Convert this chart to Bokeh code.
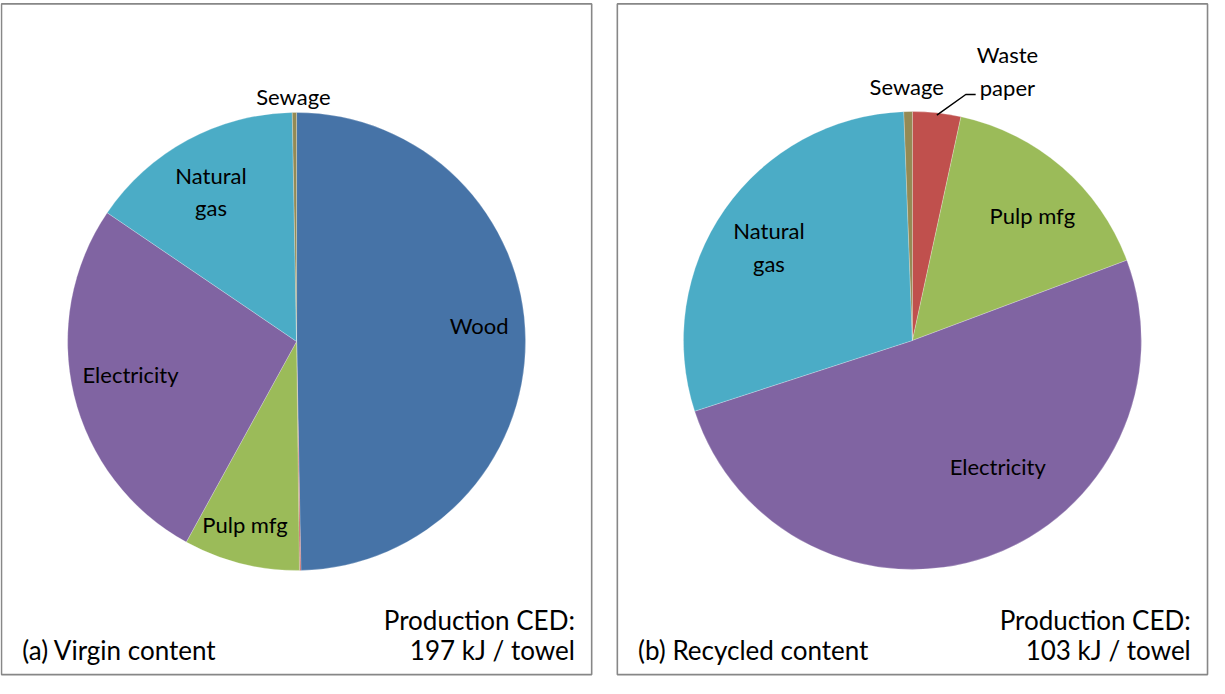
import numpy as np
from bokeh.plotting import figure
from bokeh.models import Range1d
from bokeh.core.properties import value
from bokeh.embed import file_html
from bokeh.resources import INLINE

# ---------------- data ----------------
categories = ["Wood", "Waste paper", "Pulp mfg", "Electricity", "Natural gas", "Sewage"]
virgin_pct = [49.7, 0.1, 8.2, 26.5, 15.2, 0.3]
recycled_pct = [0.0, 3.4, 15.9, 50.7, 29.4, 0.6]
label_text = ["Wood", "Waste\npaper", "Pulp mfg", "Electricity", "Natural\ngas", "Sewage"]
panel_titles = ["(a) Virgin content", "(b) Recycled content"]
ced_kj = [197, 103]

# ---------------- styles ----------------
colors = ["#4673A7", "#C0504D", "#9BBB59", "#8064A2", "#4BACC6", "#948A54"]
FONT = "Lato"

# page-pixel-like coordinates (y negated so that up is positive)
p = figure(width=1209, height=678, output_backend="svg", toolbar_location=None,
           x_range=Range1d(0, 1225), y_range=Range1d(-694, 0),
           min_border=0)
p.axis.visible = False
p.grid.visible = False
p.outline_line_color = None
p.background_fill_color = "white"

panels = [
    dict(values=virgin_pct, box=(1, 599, 3.5, 690), cx=300, cy=349, R=232,
         # label placement: (angle nudge in degrees, radius factor) or None
         labels=[(-4.4, 0.80), None, (1.5, 0.84), (2.0, 0.74), (-1.0, 0.76), (-0.2, 1.08)],
         leader=None),
    dict(values=recycled_pct, box=(625, 1223, 3.5, 690), cx=924, cy=348, R=232,
         labels=[None, (13.1, 1.26), (2.7, 0.76), (-14.5, 0.67), (-1.6, 0.75), (-0.2, 1.12)],
         leader=1),
]

for k, pan in enumerate(panels):
    vals = np.array(pan["values"], dtype=float)
    frac = vals / vals.sum()
    cum = np.concatenate([[0.0], np.cumsum(frac)])
    cx, cy, R = pan["cx"], -pan["cy"], pan["R"]
    x0, x1, t, b = pan["box"]
    p.quad(left=[x0], right=[x1], top=[-t], bottom=[-b], fill_color=None,
           line_color="#878787", line_width=1.6)
    for i, c in enumerate(categories):
        if frac[i] <= 0:
            continue
        a0 = np.pi / 2 - 2 * np.pi * cum[i]
        a1 = np.pi / 2 - 2 * np.pi * cum[i + 1]
        p.wedge(x=[cx], y=[cy], radius=R, start_angle=[a0], end_angle=[a1],
                direction="clock", fill_color=colors[i],
                line_color="white", line_width=0.6, line_alpha=0.4)
    for i, lab in enumerate(pan["labels"]):
        if lab is None:
            continue
        nudge, rf = lab
        mid = 360.0 * (cum[i] + cum[i + 1]) / 2 + nudge
        th = np.radians(mid)
        lx = cx + rf * R * np.sin(th)
        ly = cy + rf * R * np.cos(th)
        p.text(x=[lx], y=[ly], text=[label_text[i]], text_align="center",
               text_baseline="middle", text_font=value(FONT), text_font_size="22px",
               text_color="black", text_line_height=1.2)
    if pan["leader"] is not None:
        i = pan["leader"]
        mid = 360.0 * (cum[i] + cum[i + 1]) / 2
        th0 = np.radians(mid)
        th1 = np.radians(mid + 6.0)
        xs = [cx + R * np.sin(th0), cx + 1.11 * R * np.sin(th1)]
        ys = [cy + R * np.cos(th0), cy + 1.11 * R * np.cos(th1)]
        xs.append(xs[-1] + 10)
        ys.append(ys[-1])
        p.line(x=xs, y=ys, line_color="black", line_width=1.5)
    # bottom texts
    p.text(x=[x0 + 21], y=[-665], text=[panel_titles[k]], text_align="left",
           text_baseline="middle", text_font=value(FONT), text_font_size="26px",
           text_color="black")
    p.text(x=[x1 - 17], y=[-634], text=["Production CED:"], text_align="right",
           text_baseline="middle", text_font=value(FONT), text_font_size="26px",
           text_color="black")
    p.text(x=[x1 - 17], y=[-665], text=[f"{ced_kj[k]} kJ / towel"], text_align="right",
           text_baseline="middle", text_font=value(FONT), text_font_size="26px",
           text_color="black")

open("out.html", "w").write(file_html(p, INLINE))
